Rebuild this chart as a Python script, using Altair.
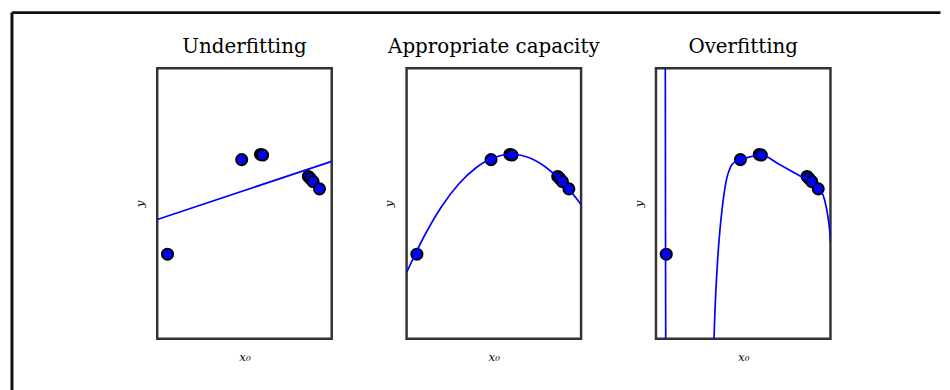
import altair as alt
import pandas as pd

# ---- data (normalised panel coordinates 0..1) ----
panel_titles = ["Underfitting", "Appropriate capacity", "Overfitting"]

pt_x = [0.059, 0.484, 0.592, 0.604, 0.866, 0.878, 0.893, 0.930]
pt_y = [0.3125, 0.662, 0.681, 0.679, 0.600, 0.592, 0.581, 0.554]

under_x = [0.0, 1.0]
under_y = [0.441, 0.6555]

approp_x = [0.0, 0.1, 0.2, 0.3, 0.4, 0.5, 0.6, 0.7, 0.8, 0.9, 1.0]
approp_y = [0.245, 0.378, 0.488, 0.573, 0.633, 0.670, 0.682, 0.670, 0.633, 0.575, 0.496]

over_x = [0.053, 0.055, 0.057, 0.20, 0.325, 0.333, 0.340, 0.349, 0.362, 0.381,
          0.404, 0.429, 0.455, 0.481, 0.54, 0.598, 0.70, 0.80, 0.87, 0.937,
          0.966, 0.985, 0.998, 1.0]
over_y = [1.3, 0.3125, -0.3, -3.0, -0.3, 0.0, 0.13, 0.245, 0.368, 0.49,
          0.588, 0.637, 0.655, 0.662, 0.672, 0.681, 0.647, 0.611, 0.585, 0.554,
          0.515, 0.453, 0.38, 0.36]

BLUE = "#0000ff"
SERIF = "DejaVu Serif"


def panel(title, lx, ly):
    pts = pd.DataFrame({"x": pt_x, "y": pt_y})
    ln = pd.DataFrame({"x": lx, "y": ly, "o": list(range(len(lx)))})
    xs = alt.Scale(domain=[0, 1], nice=False, zero=False)
    ys = alt.Scale(domain=[0, 1], nice=False, zero=False)
    xax = alt.Axis(title="x₀", labels=False, ticks=False, domain=False, grid=False,
                   titleFont=SERIF, titleFontStyle="italic", titleFontWeight="normal",
                   titleFontSize=12, titleColor="black", titlePadding=13)
    yax = alt.Axis(title="y", labels=False, ticks=False, domain=False, grid=False,
                   titleFont=SERIF, titleFontStyle="italic", titleFontWeight="normal",
                   titleFontSize=12, titleColor="black", titlePadding=11)
    points = alt.Chart(pts).mark_circle(
        size=125, color=BLUE, stroke="black", strokeWidth=2, opacity=1
    ).encode(
        x=alt.X("x:Q", scale=xs, axis=xax),
        y=alt.Y("y:Q", scale=ys, axis=yax),
    )
    line = alt.Chart(ln).mark_line(
        color=BLUE, strokeWidth=1.7, clip=True, interpolate="monotone"
    ).encode(
        x=alt.X("x:Q", scale=xs, axis=xax),
        y=alt.Y("y:Q", scale=ys, axis=yax),
        order="o:Q",
    )
    return alt.layer(points, line).properties(
        width=176,
        height=273,
        title=alt.TitleParams(
            text=title, font=SERIF, fontSize=20, fontWeight="normal",
            color="black", anchor="middle", frame="group",
            baseline="alphabetic", offset=-5,
        ),
    )


frame_df = pd.DataFrame({"k": [0]})
top_rule = alt.Chart(frame_df).mark_rule(color="#111111", strokeWidth=3).encode(
    x=alt.value(0), x2=alt.value(936.5), y=alt.value(-56)
)
left_rule = alt.Chart(frame_df).mark_rule(color="#111111", strokeWidth=3).encode(
    x=alt.value(0), y=alt.value(-56), y2=alt.value(326)
)
border = alt.layer(top_rule, left_rule).properties(
    width=70.5, height=273, view=alt.ViewBackground(strokeOpacity=0)
)

p1 = panel(panel_titles[0], under_x, under_y)
p2 = panel(panel_titles[1], approp_x, approp_y)
p3 = panel(panel_titles[2], over_x, over_y)

chart = alt.hconcat(border, p1, p2, p3, spacing=75.5, bounds="flush").properties(
    padding={"left": 2, "top": 1, "right": 0, "bottom": 0},
    background="white",
).configure_view(
    stroke="#333333", strokeWidth=2.5
)

chart.save("out.html", embed_options={"renderer": "svg", "actions": False})
